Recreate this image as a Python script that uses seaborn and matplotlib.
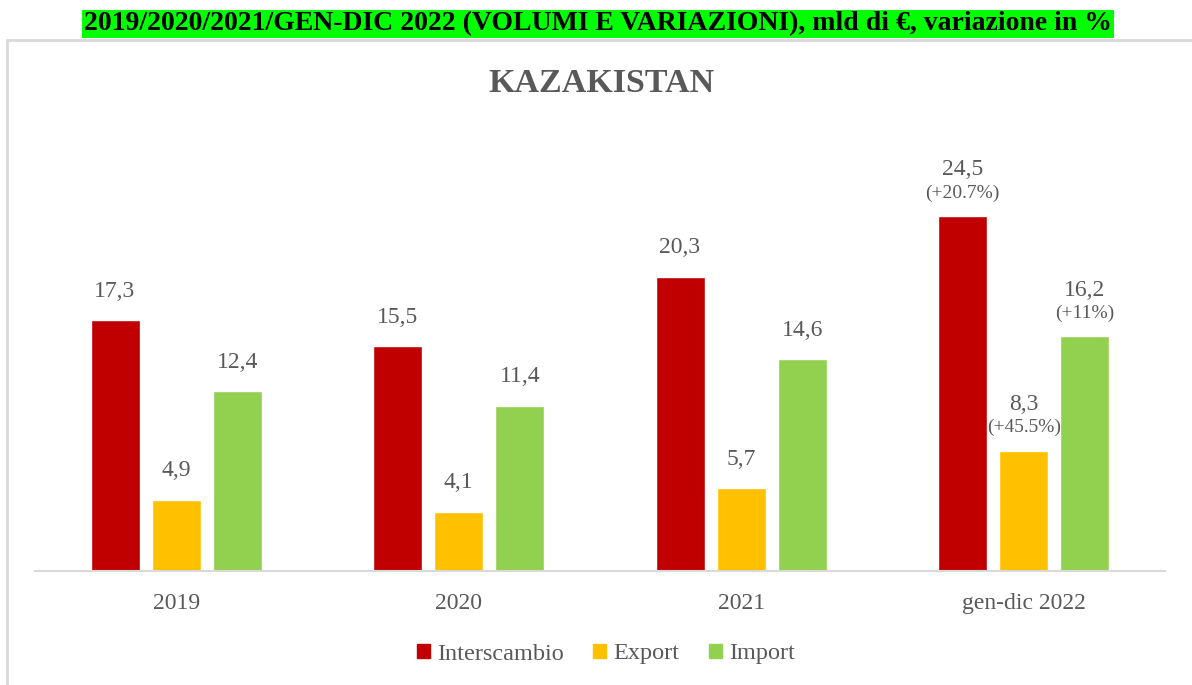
import matplotlib
matplotlib.use('Agg')
import matplotlib.pyplot as plt
import seaborn as sns
import pandas as pd
from matplotlib.lines import Line2D

# dati (mld di euro)
CATEGORIES = ['2019', '2020', '2021', 'gen-dic 2022']
SERIES = ['Interscambio', 'Export', 'Import']
INTERSCAMBIO = [17.3, 15.5, 20.3, 24.5]
EXPORT = [4.9, 4.1, 5.7, 8.3]
IMPORT = [12.4, 11.4, 14.6, 16.2]
# variazioni % (solo ultimo periodo)
VAR_INTERSCAMBIO = [None, None, None, '(+20.7%)']
VAR_EXPORT = [None, None, None, '(+45.5%)']
VAR_IMPORT = [None, None, None, '(+11%)']

COLORS = {'Interscambio': '#C00000', 'Export': '#FFC000', 'Import': '#92D050'}
TEXT_GRAY = '#595959'

sns.set_style('white')
plt.rcParams['font.family'] = ['Liberation Serif', 'DejaVu Serif']

rows = []
for name, vals in zip(SERIES, [INTERSCAMBIO, EXPORT, IMPORT]):
    for cat, v in zip(CATEGORIES, vals):
        rows.append({'Periodo': cat, 'Serie': name, 'Valore': v})
df = pd.DataFrame(rows)

fig = plt.figure(figsize=(11.92, 6.85), dpi=100)
ax = fig.add_axes([35 / 1192, (685 - 571) / 685, 1130 / 1192, 441 / 685])

sns.barplot(data=df, x='Periodo', y='Valore', hue='Serie', palette=COLORS,
            order=CATEGORIES, hue_order=SERIES, width=0.65, gap=0.2,
            ax=ax, legend=False, saturation=1)

ax.set_ylim(0, 441 / 14.49)
ax.set_xlim(-0.5, 3.5)
ax.set_xlabel('')
ax.set_ylabel('')
ax.set_yticks([])
for s in ['top', 'right', 'left']:
    ax.spines[s].set_visible(False)
ax.spines['bottom'].set_color('#D9D9D9')
ax.spines['bottom'].set_linewidth(1.5)
ax.tick_params(axis='x', length=0, pad=16, labelsize=17, labelcolor=TEXT_GRAY)

# etichette valori
pct_lists = [VAR_INTERSCAMBIO, VAR_EXPORT, VAR_IMPORT]
for cont, vals, pcts in zip(ax.containers, [INTERSCAMBIO, EXPORT, IMPORT], pct_lists):
    for bar, v, p in zip(cont, vals, pcts):
        xc = bar.get_x() + bar.get_width() / 2
        top = bar.get_height()
        txt = f'{v:.1f}'.replace('.', ',')
        if p is None:
            ax.annotate(txt, (xc, top), xytext=(0, 29), textcoords='offset pixels',
                        ha='center', va='center', fontsize=17, color=TEXT_GRAY)
        else:
            ax.annotate(p, (xc, top), xytext=(0, 23), textcoords='offset pixels',
                        ha='center', va='center', fontsize=14, color=TEXT_GRAY)
            ax.annotate(txt, (xc, top), xytext=(0, 46), textcoords='offset pixels',
                        ha='center', va='center', fontsize=17, color=TEXT_GRAY)

# cornice del grafico
fig.add_artist(Line2D([7 / 1192, 1.0], [1 - 40 / 685, 1 - 40 / 685],
                      transform=fig.transFigure, color='#D9D9D9', lw=2))
fig.add_artist(Line2D([7 / 1192, 7 / 1192], [0, 1 - 40 / 685],
                      transform=fig.transFigure, color='#D9D9D9', lw=2))

# titoli
fig.text(598 / 1192, 1 - 24 / 685,
         '2019/2020/2021/GEN-DIC 2022 (VOLUMI E VARIAZIONI), mld di €, variazione in %',
         ha='center', va='center', fontsize=20, fontweight='bold', color='black',
         bbox=dict(facecolor='#00FF00', edgecolor='none', pad=1.5))
fig.text(601 / 1192, 1 - 83 / 685, 'KAZAKISTAN', ha='center', va='center',
         fontsize=24.5, fontweight='bold', color=TEXT_GRAY)

# legenda
handles = [plt.Rectangle((0, 0), 1, 1, color=COLORS[s]) for s in SERIES]
fig.legend(handles, SERIES, loc='center', bbox_to_anchor=(606 / 1192, 31 / 685),
           ncol=3, frameon=False, fontsize=17.5, handlelength=0.55, handleheight=0.55,
           handletextpad=0.3, columnspacing=1.2, labelcolor=TEXT_GRAY)

fig.savefig('out.png', dpi=100)
